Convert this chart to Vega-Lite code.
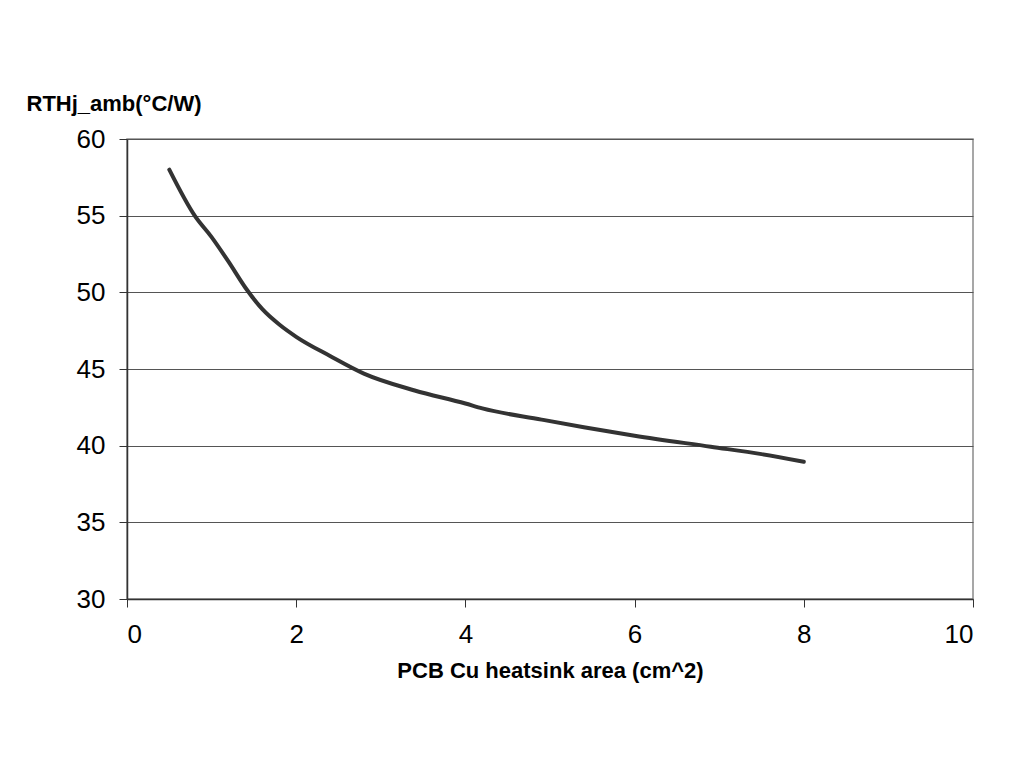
{
  "$schema": "https://vega.github.io/schema/vega-lite/v6.json",
  "width": 846,
  "height": 460,
  "autosize": {"type": "none"},
  "padding": {"left": 127, "top": 139, "right": 42, "bottom": 183},
  "background": "white",
  "config": {
    "view": {"stroke": "#8a8a8a", "strokeWidth": 1.5},
    "font": "Liberation Sans"
  },
  "data": {
    "values": [
      {"area": 0.5, "rth": 58.0},
      {"area": 0.8, "rth": 55.0},
      {"area": 1.0, "rth": 53.6},
      {"area": 1.2, "rth": 52.0},
      {"area": 1.4, "rth": 50.3},
      {"area": 1.6, "rth": 48.9},
      {"area": 1.8, "rth": 47.9},
      {"area": 2.0, "rth": 47.1},
      {"area": 2.4, "rth": 45.85},
      {"area": 2.8, "rth": 44.7},
      {"area": 3.4, "rth": 43.6},
      {"area": 4.0, "rth": 42.75},
      {"area": 4.2, "rth": 42.43},
      {"area": 4.9, "rth": 41.7},
      {"area": 5.4, "rth": 41.2},
      {"area": 6.0, "rth": 40.65},
      {"area": 6.9, "rth": 39.93},
      {"area": 7.5, "rth": 39.45},
      {"area": 8.0, "rth": 38.95}
    ]
  },
  "mark": {"type": "line", "color": "#333333", "strokeWidth": 4, "strokeCap": "round", "interpolate": "monotone"},
  "encoding": {
    "x": {
      "field": "area",
      "type": "quantitative",
      "scale": {"domain": [0, 10], "nice": false},
      "axis": {
        "values": [0, 2, 4, 6, 8, 10],
        "grid": false,
        "domainColor": "#333333",
        "domainWidth": 1.5,
        "tickColor": "#333333",
        "tickSize": 8,
        "labelFontSize": 26,
        "labelColor": "#000000",
        "labelPadding": 14,
        "title": "PCB Cu heatsink area (cm^2)",
        "titleFontSize": 22,
        "titleFontWeight": "bold",
        "titleColor": "#000000",
        "titlePadding": 13
      }
    },
    "y": {
      "field": "rth",
      "type": "quantitative",
      "scale": {"domain": [30, 60], "nice": false, "zero": false},
      "axis": {
        "values": [30, 35, 40, 45, 50, 55, 60],
        "grid": true,
        "gridColor": "#555555",
        "gridWidth": 1,
        "domainColor": "#333333",
        "domainWidth": 1.5,
        "tickColor": "#333333",
        "tickSize": 8,
        "labelFontSize": 26,
        "labelColor": "#000000",
        "labelPadding": 14,
        "title": "RTHj_amb(°C/W)",
        "titleFontSize": 22,
        "titleFontWeight": "bold",
        "titleColor": "#000000",
        "titleAngle": 0,
        "titleAlign": "left",
        "titleBaseline": "middle",
        "titleX": -101,
        "titleY": -36
      }
    }
  }
}
